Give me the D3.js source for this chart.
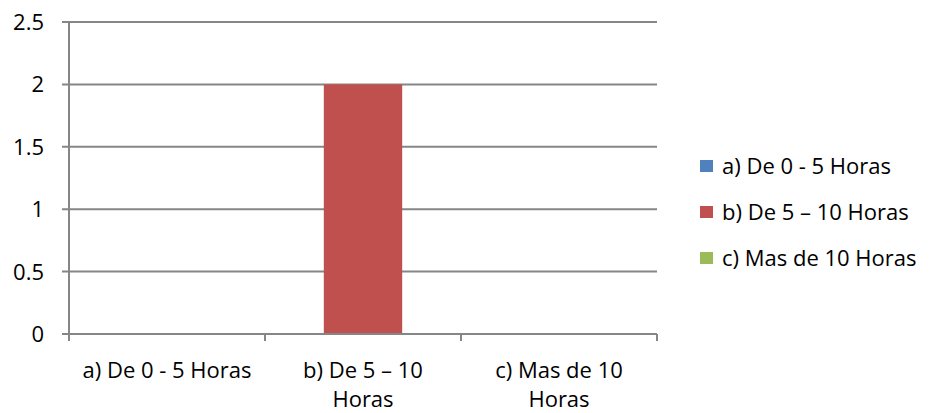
<!DOCTYPE html>
<html><head><meta charset="utf-8">
<script src="https://cdn.jsdelivr.net/npm/d3@7"></script>
<style>body{margin:0;background:#fff}svg{display:block}text{font-family:"Open Sans",sans-serif;fill:#000}</style>
</head><body><svg id="c" width="932" height="413"></svg>
<script>
const categories = ["a) De 0 - 5 Horas", "b) De 5 – 10 Horas", "c) Mas de 10 Horas"];
const categoryLines = [["a) De 0 - 5 Horas"], ["b) De 5 – 10", "Horas"], ["c) Mas de 10", "Horas"]];
const seriesNames = ["a) De 0 - 5 Horas", "b) De 5 – 10 Horas", "c) Mas de 10 Horas"];
const values = [0, 2, 0];
const yTicks = [0, 0.5, 1, 1.5, 2, 2.5];
const colors = ["#4F81BD", "#C0504D", "#9BBB59"];

const svg = d3.select("#c");
const L = 69, R = 657, T = 22, B = 334;
const FS = 22;
const x = d3.scaleBand().domain(categories).range([L, R]).paddingInner(0).paddingOuter(0);
const y = d3.scaleLinear().domain([0, 2.5]).range([B, T]);
const grid = "#868686";

// gridlines + y ticks
svg.append("g").selectAll("line").data(yTicks).join("line")
  .attr("x1", L - 7).attr("x2", R).attr("y1", d => y(d)).attr("y2", d => y(d))
  .attr("stroke", grid).attr("stroke-width", 2);
svg.append("g").selectAll("text").data(yTicks).join("text")
  .attr("x", 44).attr("y", d => y(d)).attr("dy", "0.36em").attr("text-anchor", "end")
  .attr("font-size", FS).text(d => d);

// bars
const barW = x.bandwidth() * 0.4;
svg.append("g").selectAll("rect").data(values.map((v, i) => ({v, i}))).join("rect")
  .attr("x", d => x(categories[d.i]) + (x.bandwidth() - barW) / 2)
  .attr("width", barW)
  .attr("y", d => y(d.v)).attr("height", d => B - y(d.v))
  .attr("fill", d => colors[d.i]);

// y axis line
svg.append("line").attr("x1", L).attr("x2", L).attr("y1", T).attr("y2", B + 7)
  .attr("stroke", grid).attr("stroke-width", 2);
// x axis line
svg.append("line").attr("x1", L).attr("x2", R).attr("y1", B).attr("y2", B)
  .attr("stroke", grid).attr("stroke-width", 2);
// category boundary ticks
const bounds = categories.map(c => x(c)).concat([R]);
svg.append("g").selectAll("line").data(bounds).join("line")
  .attr("x1", d => d).attr("x2", d => d).attr("y1", B).attr("y2", B + 7)
  .attr("stroke", grid).attr("stroke-width", 2);

// category labels
const cl = svg.append("g").selectAll("text").data(categories).join("text")
  .attr("text-anchor", "middle").attr("font-size", FS)
  .attr("x", d => x(d) + x.bandwidth() / 2).attr("y", 378);
cl.each(function(d, i) {
  const t = d3.select(this);
  categoryLines[i].forEach((ln, k) => {
    t.append("tspan").attr("x", x(d) + x.bandwidth() / 2).attr("y", 378 + k * 29).text(ln);
  });
});

// legend
const lg = svg.append("g").selectAll("g").data(seriesNames).join("g")
  .attr("transform", (d, i) => `translate(700,${166 + i * 46})`);
lg.append("rect").attr("x", 0).attr("y", -6).attr("width", 13).attr("height", 12)
  .attr("fill", (d, i) => colors[i]);
lg.append("text").attr("x", 22).attr("y", 0).attr("dy", "0.36em").attr("font-size", FS)
  .text(d => d);
</script></body></html>
